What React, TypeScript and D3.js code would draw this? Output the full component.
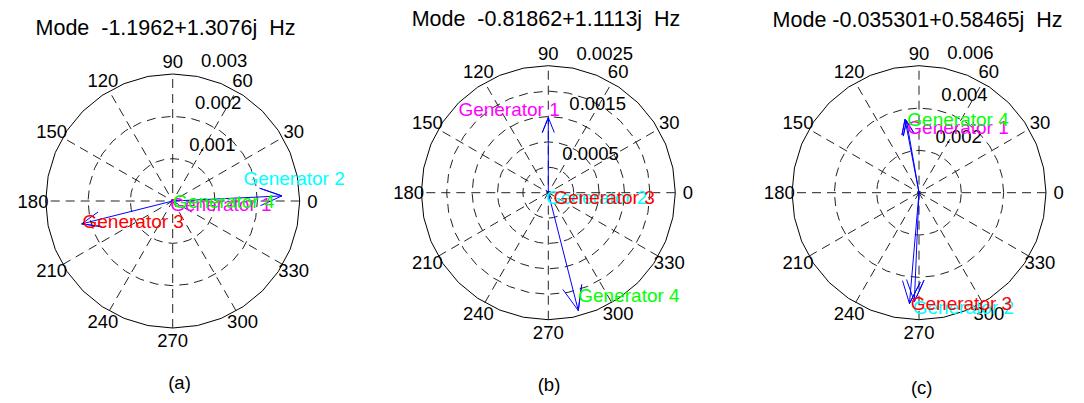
import React from 'react';
import * as d3 from 'd3';

// ---------- data ----------
const generatorNames = ['Generator 1', 'Generator 2', 'Generator 3', 'Generator 4'];
const generatorColors = ['#ff00ff', '#00ffff', '#ff0000', '#00ff00'];

const modeTitles = [
  'Mode  -1.1962+1.3076j  Hz',
  'Mode  -0.81862+1.1113j  Hz',
  'Mode -0.035301+0.58465j  Hz',
];
const panelCaptions = ['(a)', '(b)', '(c)'];

const angleTicks = [0, 30, 60, 90, 120, 150, 180, 210, 240, 270, 300, 330];

const ringValuesA = [0.001, 0.002, 0.003];
const ringLabelsA = ['0.001', '0.002', '0.003'];
const ringValuesB = [0.0005, 0.001, 0.0015, 0.002, 0.0025];
const ringLabelsB = ['0.0005', '', '0.0015', '', '0.0025'];
const ringValuesC = [0.002, 0.004, 0.006];
const ringLabelsC = ['0.002', '0.004', '0.006'];

// mode-shape phasors (real / imaginary parts), generators 1..4
const realA = [0.00007, 0.00258, -0.00215, 0.00009];
const imagA = [-0.00005, 0.00012, -0.00054, 0.00002];
const realB = [0.0, -0.00004, 0.00004, 0.00059];
const imagB = [0.00148, 0.00004, 0.00002, -0.00232];
const realC = [-0.00059, -0.00022, -0.00045, -0.00066];
const imagC = [0.0034, -0.00515, -0.00524, 0.00347];

// generator text annotations (data coordinates)
const labelRealA = [-0.00006, 0.00167, -0.00213, 0.00001];
const labelImagA = [-0.00009, 0.00054, -0.00049, -0.00002];
const labelRealB = [-0.00177, -0.000045, 0.0001, 0.00059];
const labelImagB = [0.00163, -0.0001, -0.0001, -0.00203];
const labelRealC = [-0.00055, -0.0003, -0.00039, -0.00055];
const labelImagC = [0.00307, -0.00541, -0.00522, 0.00348];

// ---------- layout ----------
const W = 1084;
const H = 403;
const R = 127;
const FONT = '"Liberation Sans", Arial, Helvetica, sans-serif';

const panels = [
  {
    cx: 172.7, cy: 201, rings: ringValuesA, ringLabels: ringLabelsA,
    re: realA, im: imagA, lre: labelRealA, lim: labelImagA,
    titleX: 165.5, titleY: 34.5, capX: 179.5, capY: 389,
  },
  {
    cx: 548.3, cy: 192.7, rings: ringValuesB, ringLabels: ringLabelsB,
    re: realB, im: imagB, lre: labelRealB, lim: labelImagB,
    titleX: 546, titleY: 25.5, capX: 549, capY: 391,
  },
  {
    cx: 919, cy: 192.7, rings: ringValuesC, ringLabels: ringLabelsC,
    re: realC, im: imagC, lre: labelRealC, lim: labelImagC,
    titleX: 917.5, titleY: 26.5, capX: 921.7, capY: 394,
  },
];

const CIRCLE_SEGMENTS = 32;

function Panel({ p, idx }: { p: any; idx: number }) {
  const rmax = p.rings[p.rings.length - 1];
  const rinc = p.rings[0];
  const x = d3.scaleLinear().domain([-rmax, rmax]).range([p.cx - R, p.cx + R]);
  const y = d3.scaleLinear().domain([-rmax, rmax]).range([p.cy + R, p.cy - R]);
  const line = d3
    .line<[number, number]>()
    .x((d) => x(d[0]))
    .y((d) => y(d[1]));

  const circlePts = (r: number) =>
    d3.range(CIRCLE_SEGMENTS + 1).map((k) => {
      const th = (2 * Math.PI * k) / CIRCLE_SEGMENTS;
      return [r * Math.cos(th), r * Math.sin(th)] as [number, number];
    });

  const spokeAngles = [30, 60, 90, 120, 150, 180];
  const c82 = Math.cos((82 * Math.PI) / 180);
  const s82 = Math.sin((82 * Math.PI) / 180);
  const rt = 1.1 * rmax;

  return (
    <g>
      {/* rings */}
      {p.rings.map((r: number, i: number) => (
        <path
          key={'ring' + i}
          d={line(circlePts(r)) || ''}
          fill="none"
          stroke={i === p.rings.length - 1 ? '#000' : '#222'}
          strokeWidth={1}
          strokeDasharray={i === p.rings.length - 1 ? undefined : '9,6'}
        />
      ))}
      {/* spokes */}
      {spokeAngles.map((a) => {
        const th = (a * Math.PI) / 180;
        const c = Math.cos(th);
        const s = Math.sin(th);
        return (
          <path
            key={'sp' + a}
            d={line([
              [-rmax * c, -rmax * s],
              [rmax * c, rmax * s],
            ]) || ''}
            fill="none"
            stroke="#222"
            strokeWidth={1}
            strokeDasharray="9,6"
          />
        );
      })}
      {/* ring labels */}
      {p.rings.map((r: number, i: number) =>
        p.ringLabels[i] ? (
          <text
            key={'rl' + i}
            x={x((r + rinc / 20) * c82)}
            y={y((r + rinc / 20) * s82) - 6}
            fontSize={18.5}
            fontFamily={FONT}
            fill="#000"
            style={{ whiteSpace: 'pre' }}
          >
            {'  ' + p.ringLabels[i]}
          </text>
        ) : null
      )}
      {/* angle labels */}
      {angleTicks.map((a) => {
        const th = (a * Math.PI) / 180;
        return (
          <text
            key={'al' + a}
            x={x(rt * Math.cos(th))}
            y={y(rt * Math.sin(th))}
            fontSize={18.5}
            fontFamily={FONT}
            textAnchor="middle"
            dominantBaseline="central"
            fill="#000"
          >
            {String(a)}
          </text>
        );
      })}
      {/* compass arrows */}
      {p.re.map((a: number, i: number) => {
        const b = p.im[i];
        const pts: [number, number][] = [
          [0, 0],
          [a, b],
          [0.8 * a - 0.08 * b, 0.8 * b + 0.08 * a],
          [a, b],
          [0.8 * a + 0.08 * b, 0.8 * b - 0.08 * a],
        ];
        return (
          <path
            key={'arr' + i}
            d={line(pts) || ''}
            fill="none"
            stroke="#0000ff"
            strokeWidth={1}
            strokeLinejoin="miter"
          />
        );
      })}
      {/* generator labels */}
      {generatorNames.map((g, i) => (
        <text
          key={'gl' + i}
          x={x(p.lre[i])}
          y={y(p.lim[i])}
          fontSize={19}
          fontFamily={FONT}
          dominantBaseline="central"
          fill={generatorColors[i]}
        >
          {g}
        </text>
      ))}
      {/* title */}
      <text
        x={p.titleX}
        y={p.titleY}
        fontSize={21.5}
        fontFamily={FONT}
        textAnchor="middle"
        fill="#000"
        style={{ whiteSpace: 'pre' }}
      >
        {modeTitles[idx]}
      </text>
      {/* caption */}
      <text
        x={p.capX}
        y={p.capY}
        fontSize={18.5}
        fontFamily={FONT}
        textAnchor="middle"
        fill="#000"
      >
        {panelCaptions[idx]}
      </text>
    </g>
  );
}

export default function App() {
  return (
    <svg
      width={W}
      height={H}
      viewBox={`0 0 ${W} ${H}`}
      style={{ position: 'absolute', left: 0, top: 0, background: '#fff', display: 'block' }}
    >
      <rect x={0} y={0} width={W} height={H} fill="#fff" />
      {panels.map((p, i) => (
        <Panel key={i} p={p} idx={i} />
      ))}
    </svg>
  );
}
